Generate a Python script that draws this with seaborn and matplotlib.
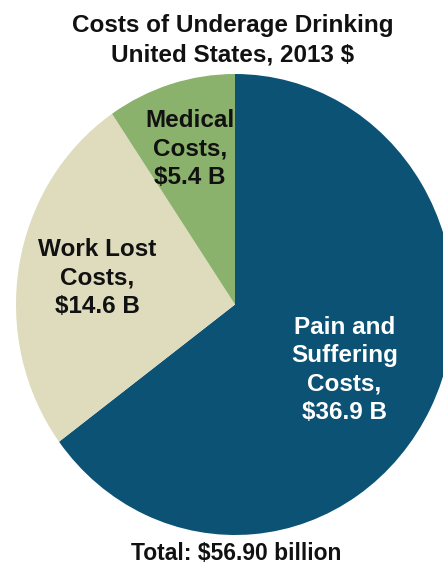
import matplotlib
matplotlib.use("Agg")
import matplotlib.pyplot as plt
import seaborn as sns

categories = ["Pain and\nSuffering\nCosts,", "Work Lost\nCosts,", "Medical\nCosts,"]
values = [36.9, 14.6, 5.4]
value_labels = ["$36.9 B", "$14.6 B", "$5.4 B"]
colors = ["#0b5274", "#dfdbbd", "#8bb26c"]
title = "Costs of Underage Drinking\nUnited States, 2013 $"
total_text = "Total: $56.90 billion"

sns.set_theme(style="white")
plt.rcParams["font.family"] = ["Liberation Sans", "DejaVu Sans"]

W, H = 443, 569
fig = plt.figure(figsize=(W / 100, H / 100), dpi=100)
# pie axes in pixel geometry (slightly elliptical like the reference)
left, right, top, bottom = 16, 454, 74, 535
ax = fig.add_axes([left / W, (H - bottom) / H, (right - left) / W, (bottom - top) / H])
ax.pie(values, colors=colors, startangle=90, counterclock=False,
       wedgeprops=dict(linewidth=0))
ax.set_aspect("auto")
ax.set_xlim(-1, 1)
ax.set_ylim(-1, 1)
ax.axis("off")

label_pos = [(0.50, -0.285), (-0.63, 0.115), (-0.205, 0.675)]
text_colors = ["white", "#111111", "#111111"]
for cat, vl, (x, y), tc in zip(categories, value_labels, label_pos, text_colors):
    ax.text(x, y, f"{cat}\n{vl}", ha="center", va="center", fontsize=17.5,
            fontweight="bold", color=tc, linespacing=1.3)

fig.text(233 / W, 1 - 40 / H, title, ha="center", va="center", fontsize=17.5,
         fontweight="bold", color="#111111", linespacing=1.38)
fig.text(236 / W, 1 - 553 / H, total_text, ha="center", va="center", fontsize=16.5,
         fontweight="bold", color="#111111")

fig.savefig("out.png", dpi=100, facecolor="white")
